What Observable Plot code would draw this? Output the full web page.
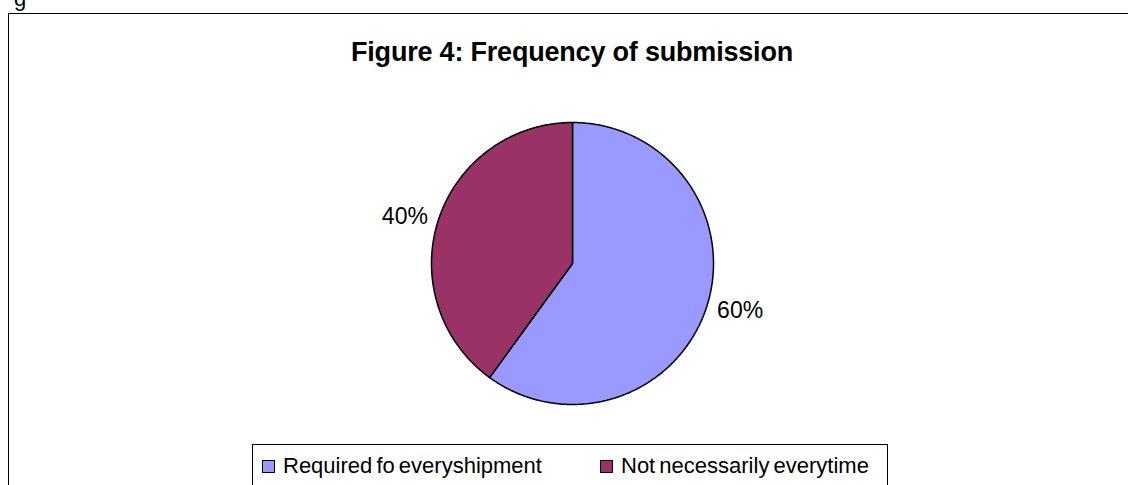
<!DOCTYPE html>
<html>
<head>
<meta charset="utf-8">
<script src="https://cdn.jsdelivr.net/npm/d3@7"></script>
<script src="https://cdn.jsdelivr.net/npm/@observablehq/plot@0.6"></script>
<style>
  html, body { margin: 0; padding: 0; background: #fff; }
  body { width: 1128px; height: 485px; position: relative; overflow: hidden; font-family: "Liberation Sans", Arial, sans-serif; }
  #frame { position: absolute; left: 8px; top: 13px; width: 1200px; height: 600px; border-left: 1px solid #000; border-top: 1px solid #000; }
  #stray { position: absolute; left: 14px; top: -13px; font-size: 22px; line-height: 23px; color: #000; }
  #title { position: absolute; left: 0; width: 1144px; top: 37px; text-align: center; font-weight: bold; font-size: 27px; letter-spacing: -0.2px; color: #000; }
  #chart { position: absolute; left: 0; top: 0; }
  #legend { position: absolute; left: 252px; top: 444px; width: 636px; height: 80px; border: 1px solid #000; box-sizing: border-box; }
  .item { position: absolute; top: 8px; display: flex; align-items: center; font-size: 22px; letter-spacing: 0px; word-spacing: -2px; color: #000; white-space: nowrap; }
  .sw { width: 11px; height: 11px; border: 1px solid #000; margin-right: 8px; }
</style>
</head>
<body>
<div id="frame"></div>
<div id="stray">g</div>
<div id="title"></div>
<div id="chart"></div>
<div id="legend"></div>
<script>
// ---- data ----
const titleText = "Figure 4: Frequency of submission";
const categories = ["Required fo everyshipment", "Not necessarily everytime"];
const shares = [60, 40];
const sliceLabels = ["60%", "40%"];
const sliceColors = ["#9999FF", "#993366"];

// ---- layout ----
const W = 1128, H = 485;
const cx = 572, cy = 263, R = 141;
const labelRx = 1.25, labelRy = 1.08;

document.getElementById("title").textContent = titleText;

const rows = categories.map((c, i) => ({category: c, value: shares[i], label: sliceLabels[i]}));
const arcs = d3.pie().sort(null).value(d => d.value)(rows);

// Unit-circle geometry; angle 0 at 12 o'clock, clockwise; y up
const pt = (a, rx = 1, ry = rx) => [rx * Math.sin(a), ry * Math.cos(a)];
const slicePts = [];
arcs.forEach(a => {
  const cat = a.data.category;
  slicePts.push({x: 0, y: 0, category: cat});
  const n = Math.max(2, Math.ceil((a.endAngle - a.startAngle) / (Math.PI / 360)));
  for (let k = 0; k <= n; k++) {
    const [x, y] = pt(a.startAngle + (a.endAngle - a.startAngle) * k / n);
    slicePts.push({x, y, category: cat});
  }
  slicePts.push({x: 0, y: 0, category: cat});
});
const labelPts = arcs.map(a => {
  const [x, y] = pt((a.startAngle + a.endAngle) / 2, labelRx, labelRy);
  return {x, y, label: a.data.label};
});

const chart = Plot.plot({
  width: W,
  height: H,
  marginLeft: cx - R,
  marginRight: W - (cx + R),
  marginTop: cy - R,
  marginBottom: H - (cy + R),
  x: {domain: [-1, 1], axis: null},
  y: {domain: [-1, 1], axis: null},
  color: {domain: categories, range: sliceColors},
  style: {background: "transparent", fontFamily: "Liberation Sans, Arial, sans-serif", overflow: "visible"},
  marks: [
    Plot.line(slicePts, {x: "x", y: "y", z: "category", fill: "category", stroke: "#000", strokeWidth: 1.5, strokeLinejoin: "round"}),
    Plot.text(labelPts, {x: "x", y: "y", text: "label", fontSize: 23, fill: "#000", textAnchor: "middle", lineAnchor: "middle", letterSpacing: "-0.3px"})
  ]
});
document.getElementById("chart").appendChild(chart);

// legend
const legend = document.getElementById("legend");
const itemLeft = [9, 347];
categories.forEach((c, i) => {
  const it = document.createElement("div");
  it.className = "item";
  it.style.left = itemLeft[i] + "px";
  const sw = document.createElement("div");
  sw.className = "sw";
  sw.style.background = sliceColors[i];
  const tx = document.createElement("span");
  tx.textContent = c;
  it.appendChild(sw);
  it.appendChild(tx);
  legend.appendChild(it);
});
</script>
</body>
</html>
